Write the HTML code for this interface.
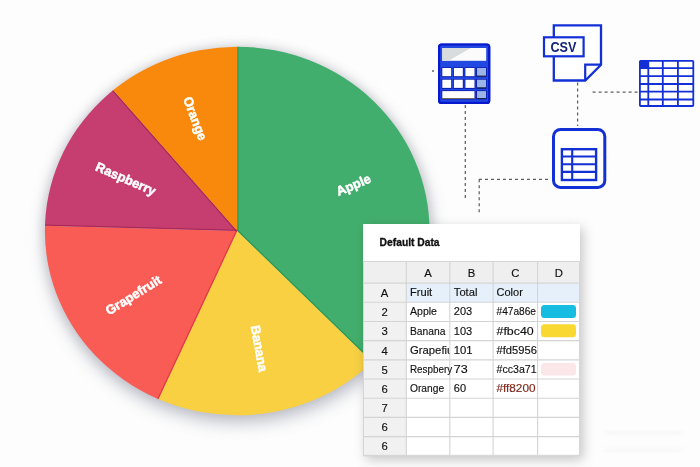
<!DOCTYPE html>
<html><head><meta charset="utf-8"><style>
html,body{margin:0;padding:0;background:#fdfdfd;width:700px;height:467px;overflow:hidden}
svg{display:block;will-change:transform}
.lbl{font-family:"Liberation Sans",sans-serif;font-weight:bold;font-size:13px;fill:#fff;stroke:#fff;stroke-width:0.5px;text-anchor:middle;dominant-baseline:central}
.ttl{font-family:"Liberation Sans",sans-serif;font-weight:bold;font-size:11.6px;fill:#111;stroke:#111;stroke-width:0.35px}
.c{font-family:"Liberation Sans",sans-serif;font-size:11.3px;fill:#111;stroke:#111;stroke-width:0.15px}
.csv{font-family:"Liberation Sans",sans-serif;font-weight:bold;font-size:15.2px;fill:#15237a}
</style></head><body>
<svg width="700" height="467" viewBox="0 0 700 467">
<defs>
<clipPath id="pie"><ellipse cx="237.2" cy="231.0" rx="192.3" ry="184.3"/></clipPath>
<clipPath id="clipA"><rect x="406" y="330" width="43.5" height="30"/></clipPath>
<filter id="psh" x="-20%" y="-20%" width="140%" height="150%"><feGaussianBlur stdDeviation="8"/></filter>
<filter id="psh2" x="-20%" y="-20%" width="140%" height="140%"><feGaussianBlur stdDeviation="5"/></filter>
<filter id="smg"><feGaussianBlur stdDeviation="2.5"/></filter>
<filter id="tsh" x="-20%" y="-20%" width="140%" height="140%"><feDropShadow dx="3" dy="4" stdDeviation="6" flood-color="#000" flood-opacity="0.22"/></filter>
</defs>
<ellipse cx="237.2" cy="231.0" rx="194.3" ry="186.3" fill="#a0a0a6" opacity="0.3" filter="url(#psh2)"/>
<ellipse cx="238.2" cy="238.0" rx="194.3" ry="186.3" fill="#8a8fa0" opacity="0.45" filter="url(#psh)"/>
<g clip-path="url(#pie)">
<path d="M237.20,231.00 L237.20,-169.00 L352.60,-151.99 L458.18,-102.42 L544.97,-24.49 L605.59,75.16 L634.89,188.06 L630.37,304.61 L592.41,414.91 L524.26,509.57Z" fill="#42ae6d"/><path d="M237.20,231.00 L524.26,509.57 L477.88,550.49 L425.76,583.77 L369.13,608.62 L309.34,624.44 L247.83,630.86 L186.06,627.72 L125.52,615.09 L67.65,593.29Z" fill="#f8d042"/><path d="M237.20,231.00 L67.65,593.29 L17.05,564.97 L-28.92,529.63 L-69.30,488.02 L-103.23,441.01 L-130.02,389.59 L-149.09,334.83 L-160.04,277.89 L-162.65,219.97Z" fill="#f95c54"/><path d="M237.20,231.00 L-162.65,219.97 L-159.41,179.05 L-152.00,138.67 L-140.49,99.27 L-125.00,61.26 L-105.69,25.03 L-82.78,-9.03 L-56.49,-40.56 L-27.12,-69.23Z" fill="#c63e6f"/><path d="M237.20,231.00 L-27.12,-69.23 L1.01,-91.83 L31.07,-111.79 L62.79,-128.98 L95.94,-143.23 L130.24,-154.43 L165.40,-162.50 L201.16,-167.37 L237.20,-169.00Z" fill="#f9890c"/>
<path d="M237.90,231.00L237.90,-69.00" stroke="#1f934f" stroke-width="1.1" opacity="0.8"/><path d="M237.69,230.50L452.98,439.42" stroke="#1f934f" stroke-width="1.1" opacity="0.8"/><path d="M236.57,230.70L109.40,502.42" stroke="#dc3038" stroke-width="1.1" opacity="0.8"/><path d="M237.22,230.30L-62.67,222.03" stroke="#9c2252" stroke-width="1.1" opacity="0.8"/><path d="M236.67,231.46L38.44,6.29" stroke="#9c2252" stroke-width="1.1" opacity="0.8"/>
</g>
<text x="353.5" y="184.9" transform="rotate(-22.9 353.5 184.9)" class="lbl">Apple</text><text x="259.3" y="348.5" transform="rotate(79.6 259.3 348.5)" class="lbl">Banana</text><text x="133.4" y="295.1" transform="rotate(-31.7 133.4 295.1)" class="lbl">Grapefruit</text><text x="125.8" y="178.8" transform="rotate(23.6 125.8 178.8)" class="lbl">Raspberry</text><text x="195.2" y="118.5" transform="rotate(69.3 195.2 118.5)" class="lbl">Orange</text>

<!-- dashed lines -->
<g stroke="#606060" stroke-width="1.25" stroke-dasharray="3 3" fill="none">
<path d="M465.3,105V198"/>
<path d="M479,179.3H549"/>
<path d="M479.2,179.3V215"/>
<path d="M577.6,82.5V126"/>
<path d="M592.6,92.1H639"/>
</g>
<rect x="432" y="70" width="2" height="2" fill="#8a8a8a"/>
<!-- calculator -->
<rect x="438" y="43.4" width="52.3" height="60.6" rx="3.5" fill="#2248e2"/>
<rect x="439.1" y="44.5" width="50.1" height="58.4" rx="2.5" fill="none" stroke="#0818cc" stroke-width="2.2"/>
<rect x="442.3" y="48" width="43.9" height="12.8" fill="#fbfbfb"/>
<path d="M442.3,48H471L448.5,60.8H442.3Z" fill="#d9dcdd"/>
<g fill="#0b1aa8">
<rect x="441.5" y="67.3" width="10.5" height="9.8"/>
<rect x="453.1" y="67.3" width="10.5" height="9.8"/>
<rect x="464.6" y="67.3" width="10.7" height="9.8"/>
<rect x="476.2" y="67.3" width="10.6" height="9.8"/>
<rect x="441.5" y="79" width="10.5" height="9.8"/>
<rect x="453.1" y="79" width="10.5" height="9.8"/>
<rect x="464.6" y="79" width="10.7" height="9.8"/>
<rect x="476.2" y="79" width="10.6" height="9.8"/>
<rect x="441.5" y="90.4" width="33.8" height="9"/>
<rect x="476.2" y="90.4" width="10.6" height="9"/>
</g>
<g fill="#fdfdfd">
<rect x="442.3" y="68" width="8.9" height="8.2"/>
<rect x="453.9" y="68" width="8.9" height="8.2"/>
<rect x="465.4" y="68" width="9.1" height="8.2"/>
<rect x="442.3" y="79.7" width="8.9" height="8.2"/>
<rect x="453.9" y="79.7" width="8.9" height="8.2"/>
<rect x="465.4" y="79.7" width="9.1" height="8.2"/>
<rect x="442.3" y="91.1" width="32.2" height="7.4"/>
</g>
<g fill="#9bb3e6">
<rect x="477" y="68" width="9" height="8.2"/>
<rect x="477" y="79.7" width="9" height="8.2"/>
<rect x="477" y="91.1" width="9" height="7.4"/>
</g>
<g fill="#6b5a30" opacity="0.8">
<rect x="442.3" y="98" width="32.2" height="0.9"/>
</g>
<g fill="#1a2040">
<rect x="477" y="75.6" width="9" height="1.1"/>
<rect x="477" y="87.3" width="9" height="1.1"/>
<rect x="477" y="98" width="9" height="0.9"/>
</g>
<!-- CSV doc -->
<path d="M553.8,25.4H601V64.7L585.2,80.5H553.8Z" fill="#fff" stroke="#1230d6" stroke-width="2.3" stroke-linejoin="miter"/>
<path d="M585.2,80.5V64.7H601" fill="none" stroke="#1230d6" stroke-width="2.2"/>
<rect x="544" y="37.3" width="39.6" height="19" fill="#fff" stroke="#1230d6" stroke-width="2.2"/>
<text x="550.4" y="52.4" class="csv" textLength="26" lengthAdjust="spacingAndGlyphs">CSV</text>
<!-- right table icon -->
<rect x="639.9" y="60.8" width="53.4" height="45.2" fill="#fff" stroke="#1230d6" stroke-width="1.8" rx="0.8"/>
<rect x="639.9" y="60.8" width="8.4" height="7.3" fill="#1230d6"/>
<g stroke="#1230d6" stroke-width="1.8" fill="none">
<path d="M648.3,60.8V106 M662.8,60.8V106 M677.9,60.8V106"/>
<path d="M639.9,68.1H693.3 M639.9,76.2H693.3 M639.9,84H693.3 M639.9,91.6H693.3 M639.9,99.5H693.3"/>
</g>
<!-- sheet icon -->
<rect x="553.5" y="129.4" width="51.3" height="58" rx="7" fill="#fff" stroke="#1230d6" stroke-width="3"/>
<rect x="561.9" y="149.2" width="34.2" height="30.8" fill="#fff" stroke="#1230d6" stroke-width="2.4"/>
<g stroke="#1230d6" stroke-width="2.1" fill="none">
<path d="M572.2,149.2V180 M561.9,156.5H596.1 M561.9,164.2H596.1 M561.9,171.9H596.1"/>
</g>

<path d="M605,432H682 M605,450.5H682" stroke="#d0d0d0" stroke-width="3" opacity="0.2" filter="url(#smg)"/>
<rect x="363" y="224" width="217" height="231.8" fill="#fff" filter="url(#tsh)"/><text x="379.6" y="246.3" class="ttl" textLength="60" lengthAdjust="spacingAndGlyphs">Default Data</text><rect x="363" y="261.5" width="217" height="21.600000000000023" fill="#efefef"/><rect x="363" y="283.1" width="43.30000000000001" height="172.7" fill="#f1f1f1"/><rect x="406.3" y="283.1" width="173.7" height="19.188888888888886" fill="#e6f0fb"/><path d="M363,261.5H580" stroke="#cfcfcf" stroke-width="1.2"/><path d="M363,283.10H580" stroke="#d4d4d4" stroke-width="1.1"/><path d="M363,302.29H580" stroke="#d4d4d4" stroke-width="1.1"/><path d="M363,321.48H580" stroke="#d4d4d4" stroke-width="1.1"/><path d="M363,340.67H580" stroke="#d4d4d4" stroke-width="1.1"/><path d="M363,359.86H580" stroke="#d4d4d4" stroke-width="1.1"/><path d="M363,379.04H580" stroke="#d4d4d4" stroke-width="1.1"/><path d="M363,398.23H580" stroke="#d4d4d4" stroke-width="1.1"/><path d="M363,417.42H580" stroke="#d4d4d4" stroke-width="1.1"/><path d="M363,436.61H580" stroke="#d4d4d4" stroke-width="1.1"/><path d="M363,455.80H580" stroke="#d4d4d4" stroke-width="1.1"/><path d="M406.3,261.5V455.8" stroke="#d4d4d4" stroke-width="1.1"/><path d="M449.8,261.5V455.8" stroke="#d4d4d4" stroke-width="1.1"/><path d="M493.1,261.5V455.8" stroke="#d4d4d4" stroke-width="1.1"/><path d="M537.6,261.5V455.8" stroke="#d4d4d4" stroke-width="1.1"/><rect x="363.5" y="261.5" width="216" height="193.8" fill="none" stroke="#d6d6d6" stroke-width="1"/><text x="428.1" y="276.5" class="c" text-anchor="middle">A</text><text x="471.5" y="276.5" class="c" text-anchor="middle">B</text><text x="515.4" y="276.5" class="c" text-anchor="middle">C</text><text x="558.8" y="276.5" class="c" text-anchor="middle">D</text><text x="384.6" y="296.9" class="c" text-anchor="middle">A</text><text x="384.6" y="316.1" class="c" text-anchor="middle">2</text><text x="384.6" y="335.3" class="c" text-anchor="middle">3</text><text x="384.6" y="354.5" class="c" text-anchor="middle">4</text><text x="384.6" y="373.7" class="c" text-anchor="middle">5</text><text x="384.6" y="392.8" class="c" text-anchor="middle">6</text><text x="384.6" y="412.0" class="c" text-anchor="middle">7</text><text x="384.6" y="431.2" class="c" text-anchor="middle">6</text><text x="384.6" y="450.4" class="c" text-anchor="middle">6</text><text id="t0_0" x="410.00" y="296.1" class="c" textLength="22.22" lengthAdjust="spacingAndGlyphs">Fruit</text><text id="t0_1" x="453.80" y="296.1" class="c" textLength="23.65" lengthAdjust="spacingAndGlyphs">Total</text><text id="t0_2" x="496.50" y="296.1" class="c" textLength="26.31" lengthAdjust="spacingAndGlyphs">Color</text><text id="t1_0" x="410.00" y="315.3" class="c" textLength="26.95" lengthAdjust="spacingAndGlyphs">Apple</text><text id="t1_1" x="453.80" y="315.3" class="c" textLength="18.36" lengthAdjust="spacingAndGlyphs">203</text><text id="t1_2" x="496.50" y="315.3" class="c" textLength="39.47" lengthAdjust="spacingAndGlyphs">#47a86e</text><text id="t2_0" x="410.00" y="334.5" class="c" textLength="35.48" lengthAdjust="spacingAndGlyphs">Banana</text><text id="t2_1" x="453.80" y="334.5" class="c" textLength="18.42" lengthAdjust="spacingAndGlyphs">103</text><text id="t2_2" x="496.50" y="334.5" class="c" textLength="37.25" lengthAdjust="spacingAndGlyphs">#fbc40</text><g clip-path="url(#clipA)"><text id="t3_0" x="410.00" y="353.7" class="c">Grapefiu</text></g><text id="t3_1" x="453.80" y="353.7" class="c">101</text><text id="t3_2" x="496.50" y="353.7" class="c" textLength="40.39" lengthAdjust="spacingAndGlyphs">#fd5956</text><text id="t4_0" x="410.00" y="372.9" class="c" textLength="42.18" lengthAdjust="spacingAndGlyphs">Respbery</text><text id="t4_1" x="453.80" y="372.9" class="c" textLength="13.94" lengthAdjust="spacingAndGlyphs">73</text><text id="t4_2" x="496.50" y="372.9" class="c" textLength="40.18" lengthAdjust="spacingAndGlyphs">#cc3a71</text><text id="t5_0" x="410.00" y="392.0" class="c" textLength="34.07" lengthAdjust="spacingAndGlyphs">Orange</text><text id="t5_1" x="453.80" y="392.0" class="c" textLength="12.25" lengthAdjust="spacingAndGlyphs">60</text><text id="t5_2" x="496.50" y="392.0" class="c" textLength="38.96" lengthAdjust="spacingAndGlyphs" style="fill:#9a2a1a">#ff8200</text><rect x="541" y="305" width="35" height="13" rx="3.5" fill="#17bde0"/><rect x="541" y="324.2" width="35" height="13" rx="3.5" fill="#f9d832"/><rect x="541" y="362.9" width="35" height="12.5" rx="3.5" fill="#fbe6e8"/>
</svg>
</body></html>
